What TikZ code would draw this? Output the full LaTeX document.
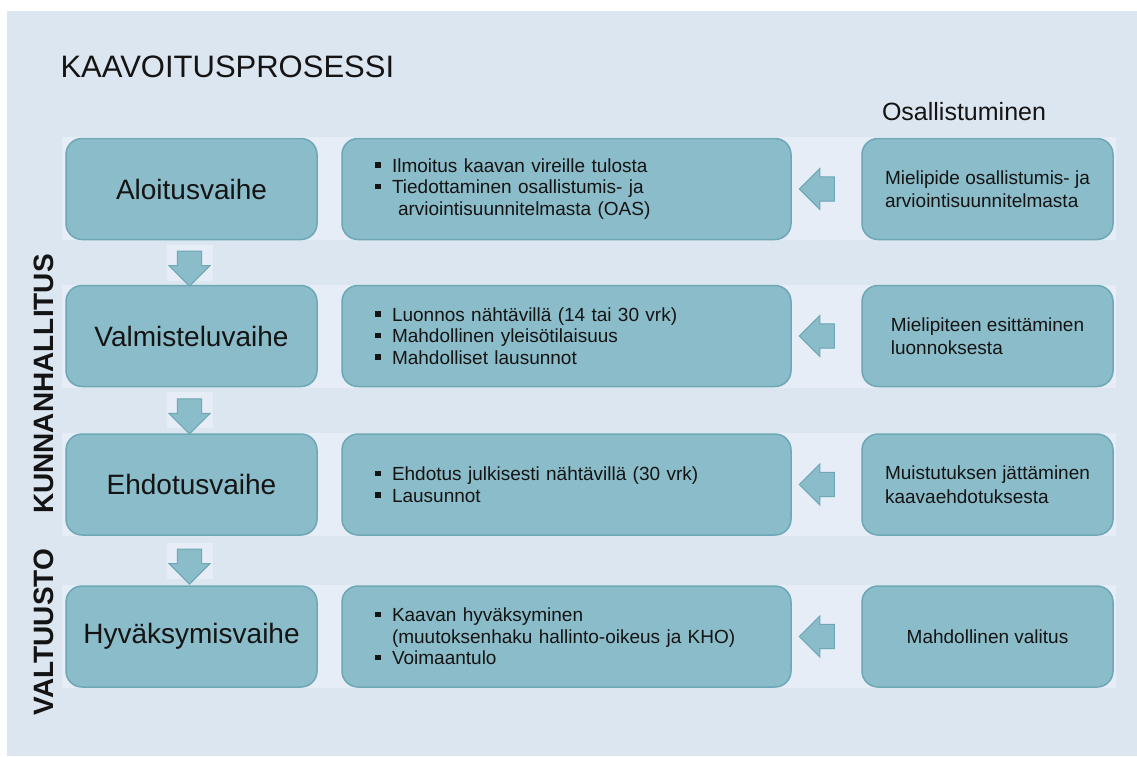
\documentclass[tikz,border=0pt]{standalone}
\usepackage{fontspec}
\setmainfont{Liberation Sans}
\usetikzlibrary{shapes.arrows,calc}

\definecolor{pagebg}{HTML}{DCE6F1}
\definecolor{bandbg}{HTML}{E6EDF6}
\definecolor{boxfill}{HTML}{8BBCC9}
\definecolor{boxline}{HTML}{6EA7B5}
\definecolor{txt}{HTML}{141414}

% square bullet
\newcommand{\sqb}{\makebox[17pt][l]{\rule[4.5pt]{5.5pt}{5.5pt}}}

\begin{document}
\begin{tikzpicture}[x=1pt,y=-1pt,
    phase/.style={draw=boxline, line width=1.5pt, fill=boxfill, rounded corners=16pt,
      minimum width=251pt, minimum height=101pt, text=txt,
      font=\fontsize{28}{32}\selectfont},
    task/.style={draw=boxline, line width=1.5pt, fill=boxfill, rounded corners=16pt,
      minimum height=101pt, text width=383pt, inner xsep=33pt, align=left, text=txt,
      font=\fontsize{19}{21.5}\selectfont},
    part/.style={draw=boxline, line width=1.5pt, fill=boxfill, rounded corners=16pt,
      minimum width=251pt, minimum height=101pt, align=left, text=txt,
      font=\fontsize{19}{23.5}\selectfont},
    flow/.style={single arrow, draw=boxline, fill=boxfill, line width=1pt,
      inner sep=10pt, minimum height=35pt, minimum width=41pt},
    side/.style={rotate=90, inner sep=0pt, text height=20pt, text depth=0pt, text=txt,
      font=\fontsize{28}{30}\selectfont\bfseries}]
  \useasboundingbox (0,0) rectangle (1137,756);

  % Background and row bands
  \fill[pagebg] (7,11) rectangle (1137,756);
  \foreach \y in {138,286,434,586}
    \fill[bandbg] (62,\y-1) rectangle (1116,\y+102);

  % Headings
  \node[anchor=west, text=txt, font=\fontsize{31}{34}\selectfont] (title) at (57,67) {KAAVOITUSPROSESSI};
  \node[text=txt, font=\fontsize{25}{28}\selectfont] (osall) at (964,112) {Osallistuminen};
  \node[side] (kunta) at (43,384) {KUNNANHALLITUS};
  \node[side] (valt) at (43,632) {VALTUUSTO};

  % Phases
  \node[phase] (aloitus) at (191.5,189) {Aloitusvaihe};
  \node[phase] (valmistelu) at (191.5,336) {Valmisteluvaihe};
  \node[phase] (ehdotus) at (191.5,484.5) {Ehdotusvaihe};
  \node[phase] (hyvaksy) at (191.5,636.5) {Hyväksymisvaihe};

  % Tasks
  \node[task] (tehtava1) at (566.5,189) {\sqb Ilmoitus kaavan vireille tulosta\\
    \sqb Tiedottaminen osallistumis- ja\\
    \hspace*{23pt}arviointisuunnitelmasta (OAS)};
  \node[task] (tehtava2) at (566.5,336) {\sqb Luonnos nähtävillä (14 tai 30 vrk)\\
    \sqb Mahdollinen yleisötilaisuus\\
    \sqb Mahdolliset lausunnot};
  \node[task] (tehtava3) at (566.5,484.5) {\sqb Ehdotus julkisesti nähtävillä (30 vrk)\\
    \sqb Lausunnot};
  \node[task] (tehtava4) at (566.5,636.5) {\sqb Kaavan hyväksyminen\\
    \hspace*{17pt}(muutoksenhaku hallinto-oikeus ja KHO)\\
    \sqb Voimaantulo};

  % Participation
  \node[part] (osa1) at (987.5,189) {Mielipide osallistumis- ja\\arviointisuunnitelmasta};
  \node[part] (osa2) at (987.5,336) {Mielipiteen esittäminen\\luonnoksesta};
  \node[part] (osa3) at (987.5,484.5) {Muistutuksen jättäminen\\kaavaehdotuksesta};
  \node[part] (osa4) at (987.5,636.5) {Mahdollinen valitus};

  % Arrows down, each on its own light patch
  \foreach \a/\b [count=\i] in {aloitus/valmistelu, valmistelu/ehdotus, ehdotus/hyvaksy} {
    \coordinate (väli\i) at ($(\a.south)!0.5!(\b.north)+(-2,0)$);
    \fill[bandbg] ($(väli\i)+(-23,-18)$) rectangle ($(väli\i)+(23,18)$);
    \node[flow, shape border rotate=270] (alas\i) at (väli\i) {};
  }

  % Arrows from participation to tasks
  \node[flow, shape border rotate=180] (vasen1) at ($(tehtava1.east)!0.45!(osa1.west)$) {};
  \node[flow, shape border rotate=180] (vasen2) at ($(tehtava2.east)!0.45!(osa2.west)$) {};
  \node[flow, shape border rotate=180] (vasen3) at ($(tehtava3.east)!0.45!(osa3.west)$) {};
  \node[flow, shape border rotate=180] (vasen4) at ($(tehtava4.east)!0.45!(osa4.west)$) {};
\end{tikzpicture}
\end{document}
